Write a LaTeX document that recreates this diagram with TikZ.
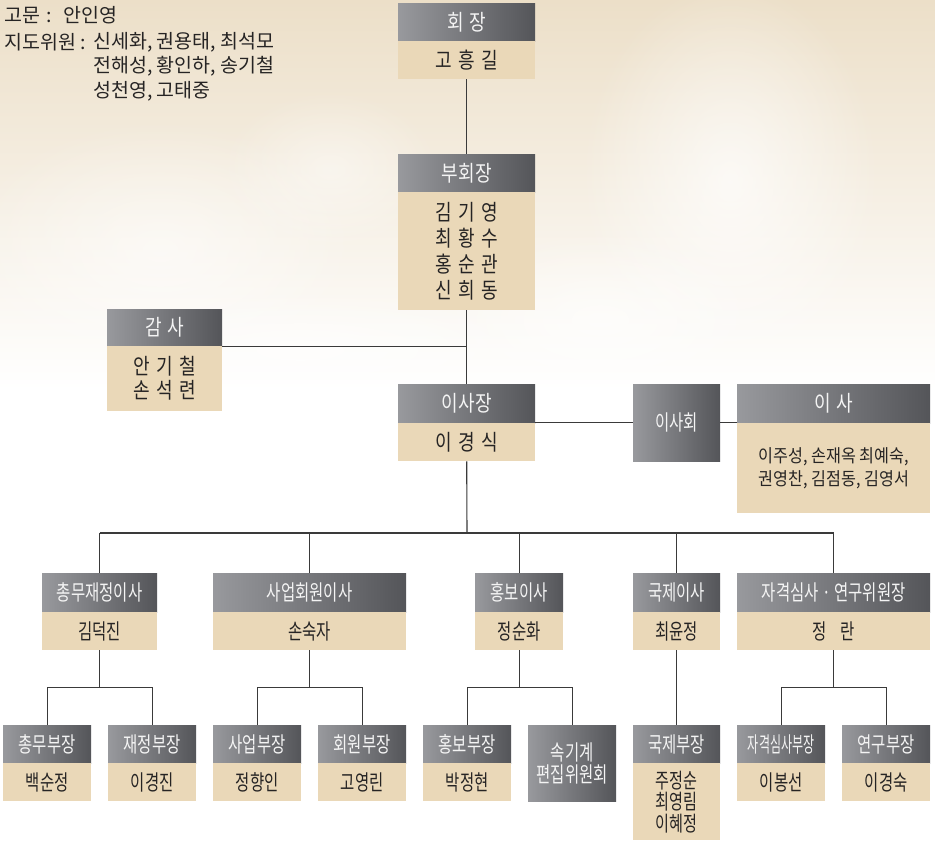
\documentclass[tikz,border=0pt]{standalone}
\usepackage{fontspec}
\setmainfont{Noto Sans CJK KR}
\newfontfamily\krA[FakeStretch=0.82, WordSpace=1.5]{Noto Sans CJK KR}
\newfontfamily\krB[FakeStretch=0.72]{Noto Sans CJK KR}
\newfontfamily\krC[FakeStretch=0.56]{Noto Sans CJK KR}
\newfontfamily\krD{Noto Sans CJK KR}
\newfontfamily\krE[FakeStretch=0.9]{Noto Sans CJK KR}
\usetikzlibrary{fadings}
\tikzfading[name=softc, inner color=transparent!0, outer color=transparent!100]
\definecolor{hdL}{RGB}{152,153,157}
\definecolor{hdR}{RGB}{84,85,89}
\definecolor{bdyc}{RGB}{234,216,184}
\definecolor{lnc}{RGB}{58,58,58}
\definecolor{txtc}{RGB}{38,36,36}
\definecolor{hdtxt}{RGB}{244,244,244}
\definecolor{bgTop}{RGB}{236,223,200}
\definecolor{bgMid}{RGB}{244,235,221}
\tikzset{
  hdr/.style={rectangle, inner sep=0pt, left color=hdL, right color=hdR, text=hdtxt, anchor=north west, align=center},
  bd/.style={rectangle, inner sep=0pt, fill=bdyc, text=txtc, anchor=north west, align=center},
  fA/.style={font=\krA\fontsize{22}{26}\selectfont},
  fB/.style={font=\krB\fontsize{21.5}{21}\selectfont},
  fC/.style={font=\krC\fontsize{21.5}{21}\selectfont},
  fD/.style={font=\krE\fontsize{18}{23}\selectfont},
  fT/.style={font=\krD\fontsize{19.5}{20}\selectfont, text=txtc, inner sep=0pt, anchor=west},
  conn/.style={draw=lnc, line width=1.1pt},
  cloud/.style={fill=white, path fading=softc}
}
\begin{document}
\begin{tikzpicture}[x=1pt, y=-1pt]
\useasboundingbox (0,0) rectangle (935,841);
% background
\fill[white] (0,0) rectangle (935,841);
\shade[top color=bgTop, middle color=bgMid, bottom color=white] (0,0) rectangle (935,390);
\fill[cloud, opacity=0.7] (730,180) ellipse [x radius=150, y radius=200];
\fill[cloud, opacity=0.6] (600,320) ellipse [x radius=170, y radius=90];
\fill[cloud, opacity=0.55] (160,250) ellipse [x radius=200, y radius=130];
\fill[cloud, opacity=0.45] (330,170) ellipse [x radius=110, y radius=80];
\fill[cloud, opacity=0.6] (300,350) ellipse [x radius=260, y radius=60];

% top-left text
\node[fT] (t1) at (4,15) {고문\hspace{6pt}:\hspace{12pt}안인영};
\node[fT] (t2a) at (4,42) {지도위원 :};
\node[fT] (t2b) at (93,42) {신세화, 권용태, 최석모};
\node[fT] (t3) at (93,66) {전해성, 황인하, 송기철};
\node[fT] (t4) at (93,91) {성천영, 고태중};

% 회장
\node[hdr, fA, minimum width=137pt, minimum height=38pt] (hj-h) at (398,3) {회 장};
\node[bd, fA, minimum width=137pt, minimum height=38pt] (hj-b) at (398,41) {고 흥 길};
% 부회장
\node[hdr, fA, minimum width=137pt, minimum height=38pt] (bh-h) at (398,154) {부회장};
\node[bd, fA, minimum width=137pt, minimum height=118pt] (bh-b) at (398,192) {김 기 영\\최 황 수\\홍 순 관\\신 희 동};
% 감사
\node[hdr, fA, minimum width=115pt, minimum height=37pt] (gs-h) at (107,309) {감 사};
\node[bd, fA, font=\krA\fontsize{22}{24}\selectfont, minimum width=115pt, minimum height=65pt] (gs-b) at (107,346) {안 기 철\\손 석 련};
% 이사장
\node[hdr, fA, minimum width=137pt, minimum height=39pt] (isj-h) at (398,384) {이사장};
\node[bd, fA, minimum width=137pt, minimum height=38pt] (isj-b) at (398,423) {이 경 식};
% 이사회
\node[hdr, fB, minimum width=87pt, minimum height=77pt] (ish) at (633,384) {이사회};
% 이사
\node[hdr, fA, minimum width=193pt, minimum height=39pt] (isa-h) at (737,384) {이 사};
\node[bd, fD, minimum width=193pt, minimum height=90pt] (isa-b) at (737,423) {이주성, 손재옥 최예숙,\\권영찬, 김점동, 김영서};

% level 3
\node[hdr, fB, minimum width=115pt, minimum height=39pt] (c1-h) at (42,573) {총무재정이사};
\node[bd, fB, minimum width=115pt, minimum height=38pt] (c1-b) at (42,612) {김덕진};
\node[hdr, fB, minimum width=193pt, minimum height=39pt] (c2-h) at (213,573) {사업회원이사};
\node[bd, fB, minimum width=193pt, minimum height=38pt] (c2-b) at (213,612) {손숙자};
\node[hdr, fB, minimum width=88pt, minimum height=39pt] (c3-h) at (475,573) {홍보이사};
\node[bd, fB, minimum width=88pt, minimum height=38pt] (c3-b) at (475,612) {정순화};
\node[hdr, fB, minimum width=87pt, minimum height=39pt] (c4-h) at (633,573) {국제이사};
\node[bd, fB, minimum width=87pt, minimum height=38pt] (c4-b) at (633,612) {최윤정};
\node[hdr, fB, minimum width=193pt, minimum height=39pt] (c5-h) at (737,573) {자격심사 · 연구위원장};
\node[bd, fB, minimum width=193pt, minimum height=38pt] (c5-b) at (737,612) {정\hspace{14pt}란};

% level 4
\node[hdr, fB, minimum width=88pt, minimum height=38pt] (d1-h) at (3,725) {총무부장};
\node[bd, fB, minimum width=88pt, minimum height=38pt] (d1-b) at (3,763) {백순정};
\node[hdr, fB, minimum width=88pt, minimum height=38pt] (d2-h) at (108,725) {재정부장};
\node[bd, fB, minimum width=88pt, minimum height=38pt] (d2-b) at (108,763) {이경진};
\node[hdr, fB, minimum width=88pt, minimum height=38pt] (d3-h) at (213,725) {사업부장};
\node[bd, fB, minimum width=88pt, minimum height=38pt] (d3-b) at (213,763) {정향인};
\node[hdr, fB, minimum width=88pt, minimum height=38pt] (d4-h) at (318,725) {회원부장};
\node[bd, fB, minimum width=88pt, minimum height=38pt] (d4-b) at (318,763) {고영린};
\node[hdr, fB, minimum width=88pt, minimum height=38pt] (d5-h) at (423,725) {홍보부장};
\node[bd, fB, minimum width=88pt, minimum height=38pt] (d5-b) at (423,763) {박정현};
\node[hdr, fB, font=\krB\fontsize{21.5}{22}\selectfont, minimum width=88pt, minimum height=76pt] (d6-h) at (528,725) {속기계\\편집위원회};
\node[hdr, fB, minimum width=87pt, minimum height=38pt] (d7-h) at (633,725) {국제부장};
\node[bd, fB, font=\krB\fontsize{21}{21.5}\selectfont, minimum width=87pt, minimum height=77pt] (d7-b) at (633,763) {주정순\\최영림\\이혜정};
\node[hdr, fC, minimum width=88pt, minimum height=38pt] (d8-h) at (737,725) {자격심사부장};
\node[bd, fB, minimum width=88pt, minimum height=38pt] (d8-b) at (737,763) {이봉선};
\node[hdr, fB, minimum width=88pt, minimum height=38pt] (d9-h) at (842,725) {연구부장};
\node[bd, fB, minimum width=88pt, minimum height=38pt] (d9-b) at (842,763) {이경숙};

% connectors
\draw[conn] (hj-b.south) -- (bh-h.north);
\draw[conn] (bh-b.south) -- (isj-h.north);
\coordinate (gj) at (gs-h.south east -| bh-b.south);
\draw[conn] (gs-h.south east) -- (gj);
\draw[conn] (ish.west -| isj-h.east) -- (ish.west);
\draw[conn] (ish.east) -- (ish.east -| isa-h.west);
\coordinate (bus) at (467,533);
\draw[conn] (isj-b.south) -- (bus);
\draw[conn] (bus -| c1-h.north) -- (bus -| c5-h.north);
\foreach \i in {1,...,5} {\draw[conn] (bus -| c\i-h.north) -- (c\i-h.north);}
% sub-buses
\draw[conn] (c1-b.south) -- ++(0,37) coordinate (s1);
\draw[conn] (s1 -| d1-h.north) -- (s1 -| d2-h.north);
\draw[conn] (s1 -| d1-h.north) -- (d1-h.north);
\draw[conn] (s1 -| d2-h.north) -- (d2-h.north);
\draw[conn] (c2-b.south) -- ++(0,37) coordinate (s2);
\draw[conn] (s2 -| d3-h.north) -- (s2 -| d4-h.north);
\draw[conn] (s2 -| d3-h.north) -- (d3-h.north);
\draw[conn] (s2 -| d4-h.north) -- (d4-h.north);
\draw[conn] (c3-b.south) -- ++(0,37) coordinate (s3);
\draw[conn] (s3 -| d5-h.north) -- (s3 -| d6-h.north);
\draw[conn] (s3 -| d5-h.north) -- (d5-h.north);
\draw[conn] (s3 -| d6-h.north) -- (d6-h.north);
\draw[conn] (c4-b.south) -- (d7-h.north);
\draw[conn] (c5-b.south) -- ++(0,37) coordinate (s5);
\draw[conn] (s5 -| d8-h.north) -- (s5 -| d9-h.north);
\draw[conn] (s5 -| d8-h.north) -- (d8-h.north);
\draw[conn] (s5 -| d9-h.north) -- (d9-h.north);
\end{tikzpicture}
\end{document}
